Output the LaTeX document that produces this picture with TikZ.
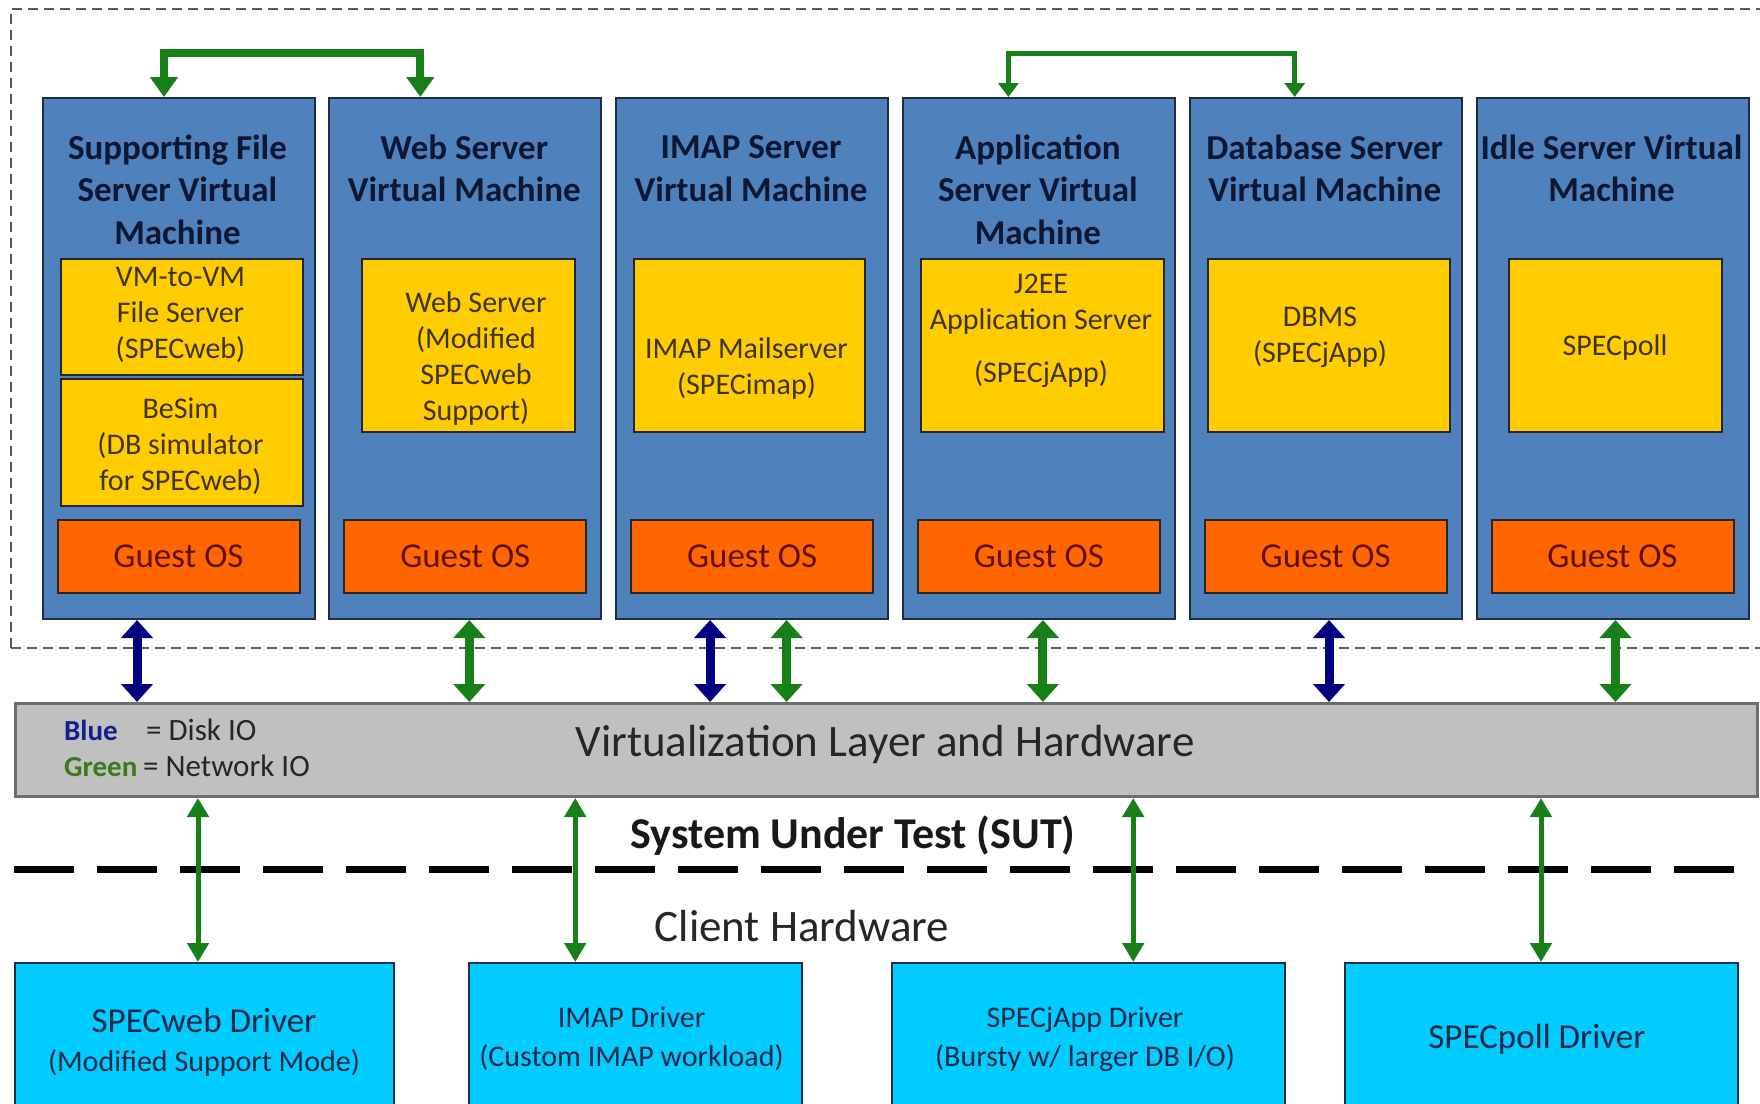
\documentclass[tikz,border=0pt]{standalone}
\usepackage{fontspec}
\setmainfont{Carlito}
\usetikzlibrary{arrows.meta}
\definecolor{vmblue}{RGB}{79,129,189}
\definecolor{vmedge}{RGB}{30,45,70}
\definecolor{gold}{RGB}{255,204,0}
\definecolor{osorange}{RGB}{255,102,0}
\definecolor{barfill}{RGB}{192,192,192}
\definecolor{baredge}{RGB}{110,110,110}
\definecolor{cyanbox}{RGB}{0,204,255}
\definecolor{netgreen}{RGB}{24,128,24}
\definecolor{disknavy}{RGB}{0,0,128}
\definecolor{titletext}{RGB}{14,24,52}
\definecolor{goldtext}{RGB}{64,52,16}
\definecolor{ostext}{RGB}{96,16,0}
\definecolor{drvtext}{RGB}{24,40,72}
\definecolor{legendgreen}{RGB}{60,120,30}
\definecolor{legendblue}{RGB}{20,30,140}
\newcommand\myfs[2]{\fontsize{#1}{#2}\selectfont}
\begin{document}
\begin{tikzpicture}[x=1pt,y=-1pt,
  vm/.style={draw=vmedge, line width=2pt, fill=vmblue, minimum width=272pt, minimum height=521pt, anchor=north west, inner sep=0pt},
  ybox/.style={draw=black!85, line width=2pt, fill=gold, anchor=north west, inner sep=0pt, minimum height=173pt},
  os/.style={draw=black!85, line width=2pt, fill=osorange, minimum width=242pt, minimum height=73pt, anchor=north west, inner sep=0pt, text=ostext, font=\myfs{35}{40}},
  drv/.style={draw=vmedge, line width=2pt, fill=cyanbox, minimum height=170pt, anchor=north west, inner sep=0pt},
  title/.style={align=center, inner sep=0pt, text=titletext, font=\myfs{35}{42.5}\bfseries},
  ytext/.style={align=center, inner sep=0pt, text=goldtext, font=\myfs{30}{36}},
  dtext/.style={align=center, inner sep=0pt, text=drvtext, font=\myfs{30}{38.5}},
  vmar/.style={line width=9pt, {Triangle[width=31pt,length=18pt]}-{Triangle[width=31pt,length=18pt]}},
  drvar/.style={line width=5pt, draw=netgreen, {Triangle[width=21pt,length=19pt]}-{Triangle[width=21pt,length=19pt]}},
  topar/.style={draw=netgreen, line width=8pt, {Triangle[width=27pt,length=20pt]}-{Triangle[width=27pt,length=20pt]}},
  topthin/.style={draw=netgreen, line width=5pt, {Triangle[width=20pt,length=14pt]}-{Triangle[width=20pt,length=14pt]}},
  lgkey/.style={anchor=base west, inner sep=0pt, font=\myfs{29}{32}\bfseries},
  lgval/.style={anchor=base west, inner sep=0pt, text=black!85, font=\myfs{31}{34}},
]
\useasboundingbox (0,0) rectangle (1760,1103);
\clip (0,0) rectangle (1760,1103);
\fill[white] (0,0) rectangle (1760,1103);

% SUT dashed enclosure
\draw[draw=black!65, line width=2pt, dash pattern=on 10pt off 6pt] (11,648) -- (11,9) -- (1800,9);
\draw[draw=black!65, line width=2pt, dash pattern=on 10pt off 6pt] (11,648) -- (1800,648);

% VM boxes
\node[vm] (vm1) at (41.5,97) {};
\node[vm] (vm2) at (328.3,97) {};
\node[vm] (vm3) at (615.1,97) {};
\node[vm] (vm4) at (901.9,97) {};
\node[vm] (vm5) at (1188.7,97) {};
\node[vm] (vm6) at (1475.5,97) {};

% titles
\node[title] (t1) at (177.5,189.5) {Supporting File\\Server Virtual\\Machine};
\node[title] (t2) at (464.3,168.5) {Web Server\\Virtual Machine};
\node[title] (t3) at (751.1,168.5) {IMAP Server\\Virtual Machine};
\node[title] (t4) at (1037.9,189.5) {Application\\Server Virtual\\Machine};
\node[title] (t5) at (1324.7,168.5) {Database Server\\Virtual Machine};
\node[title] (t6) at (1611.5,168.5) {Idle Server Virtual\\Machine};

% yellow boxes
\node[ybox, minimum width=242pt, minimum height=116pt] (y1a) at (59.5,258) {};
\node[ybox, minimum width=242pt, minimum height=127pt] (y1b) at (59.5,378) {};
\node[ybox, minimum width=213pt] (y2) at (361,258) {};
\node[ybox, minimum width=231pt] (y3) at (633,258) {};
\node[ybox, minimum width=243pt] (y4) at (920,258) {};
\node[ybox, minimum width=242pt] (y5) at (1207,258) {};
\node[ybox, minimum width=213pt] (y6) at (1508,258) {};

\node[ytext] (yt1a) at (180.5,315.4) {VM-to-VM\\File Server\\(SPECweb)};
\node[ytext] (yt1b) at (180.5,446) {BeSim\\(DB simulator\\for SPECweb)};
\node[ytext] (yt2) at (476,358.5) {Web Server\\(Modified\\SPECweb\\Support)};
\node[ytext] (yt3) at (746.5,368) {IMAP Mailserver\\(SPECimap)};
\node[ytext] (yt4) at (1041,331) {J2EE\\Application Server\\[17pt](SPECjApp)};
\node[ytext] (yt5) at (1320,337) {DBMS\\(SPECjApp)};
\node[ytext] (yt6) at (1615,347) {SPECpoll};

% guest OS
\node[os] (os1) at (56.5,518.5) {Guest OS};
\node[os] (os2) at (343.3,518.5) {Guest OS};
\node[os] (os3) at (630.1,518.5) {Guest OS};
\node[os] (os4) at (916.9,518.5) {Guest OS};
\node[os] (os5) at (1203.7,518.5) {Guest OS};
\node[os] (os6) at (1490.5,518.5) {Guest OS};

% virtualization bar
\node[draw=baredge, line width=3pt, fill=barfill, minimum width=1742pt, minimum height=93pt, anchor=north west, inner sep=0pt] (bar) at (14,702) {};
\node[inner sep=0pt, text=black!85, font=\myfs{45}{50}] (bartxt) at (885,744) {Virtualization Layer and Hardware};
\node[lgkey, text=legendblue] (lgb) at (64,740.5) {Blue};
\node[lgval] (lgbt) at (146,740.5) {= Disk IO};
\node[lgkey, text=legendgreen] (lgg) at (64,776.5) {Green};
\node[lgval] (lggt) at (143,776.5) {= Network IO};

% SUT / client separation
\node[inner sep=0pt, text=black!90, font=\myfs{44}{50}\bfseries] (sut) at (853,836) {System Under Test (SUT)};
\draw[line width=7pt, dash pattern=on 60pt off 23pt] (14,869) -- (1740,869);
\node[inner sep=0pt, text=black!85, font=\myfs{45}{50}] (client) at (802,926) {Client Hardware};

% drivers
\node[drv, minimum width=379pt] (d1) at (14,962) {};
\node[drv, minimum width=333.5pt] (d2) at (467.5,962) {};
\node[drv, minimum width=392.5pt] (d3) at (891,962) {};
\node[drv, minimum width=393pt] (d4) at (1343.5,962) {};
\node[dtext] (dt1) at (204,1042) {{\myfs{35}{38.5}SPECweb Driver}\\(Modified Support Mode)};
\node[dtext] (dt2) at (631.5,1038.5) {IMAP Driver\\(Custom IMAP workload)};
\node[dtext] (dt3) at (1085,1039) {SPECjApp Driver\\(Bursty w/ larger DB I/O)};
\node[dtext, font=\myfs{35}{40}] (dt4) at (1537,1039) {SPECpoll Driver};

% VM-to-VM arrows
\draw[topar] ([xshift=-14.5]vm1.north) -- ++(0,-44) -| ([xshift=-45]vm2.north);
\draw[topthin] ([xshift=-30.5]vm4.north) -- ++(0,-44) -| ([xshift=-31]vm5.north);

% VM to virtualization layer
\draw[vmar, draw=disknavy] ([xshift=-41.5]vm1.south) -- ([xshift=-41.5]vm1.south |- bar.north);
\draw[vmar, draw=netgreen] ([xshift=4]vm2.south) -- ([xshift=4]vm2.south |- bar.north);
\draw[vmar, draw=disknavy] ([xshift=-42]vm3.south) -- ([xshift=-42]vm3.south |- bar.north);
\draw[vmar, draw=netgreen] ([xshift=34.5]vm3.south) -- ([xshift=34.5]vm3.south |- bar.north);
\draw[vmar, draw=netgreen] ([xshift=4]vm4.south) -- ([xshift=4]vm4.south |- bar.north);
\draw[vmar, draw=disknavy] ([xshift=3.3]vm5.south) -- ([xshift=3.3]vm5.south |- bar.north);
\draw[vmar, draw=netgreen] ([xshift=3]vm6.south) -- ([xshift=3]vm6.south |- bar.north);

% virtualization layer to drivers
\draw[drvar] ([xshift=-6.5]d1.north |- bar.south) -- ([xshift=-6.5]d1.north);
\draw[drvar] ([xshift=-60]d2.north |- bar.south) -- ([xshift=-60]d2.north);
\draw[drvar] ([xshift=45]d3.north |- bar.south) -- ([xshift=45]d3.north);
\draw[drvar] ([xshift=0]d4.north |- bar.south) -- ([xshift=0]d4.north);
\end{tikzpicture}
\end{document}
